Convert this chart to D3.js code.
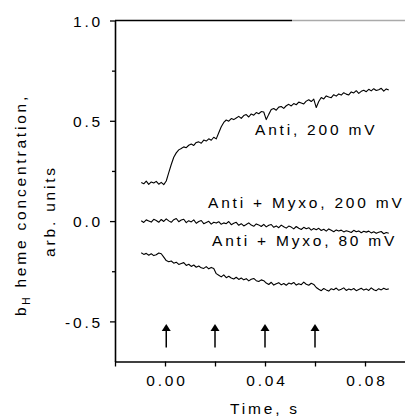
<!DOCTYPE html>
<html>
<head>
<meta charset="utf-8">
<script src="https://cdn.jsdelivr.net/npm/d3@7"></script>
<style>
  html, body { margin: 0; padding: 0; background: #fff; }
  svg text { font-family: "Liberation Sans", Arial, sans-serif; font-size: 15.5px; letter-spacing: 2.8px; fill: #000; }
</style>
</head>
<body>
<svg id="chart" width="405" height="418"></svg>
<script>
// ---- data ----
const times = [
  -0.0095,-0.0085,-0.0075,-0.0065,-0.0055,-0.0045,-0.0035,-0.0025,-0.0015,-0.0005,
   0.0005, 0.0015, 0.0025, 0.0035, 0.0045, 0.0055, 0.0065, 0.0075, 0.0085, 0.0095,
   0.0105, 0.0115, 0.0125, 0.0135, 0.0145, 0.0155, 0.0165, 0.0175, 0.0185, 0.0195,
   0.0205, 0.0215, 0.0225, 0.0235, 0.0245, 0.0255, 0.0265, 0.0275, 0.0285, 0.0295,
   0.0305, 0.0315, 0.0325, 0.0335, 0.0345, 0.0355, 0.0365, 0.0375, 0.0385, 0.0395,
   0.0405, 0.0415, 0.0425, 0.0435, 0.0445, 0.0455, 0.0465, 0.0475, 0.0485, 0.0495,
   0.0505, 0.0515, 0.0525, 0.0535, 0.0545, 0.0555, 0.0565, 0.0575, 0.0585, 0.0595,
   0.0605, 0.0615, 0.0625, 0.0635, 0.0645, 0.0655, 0.0665, 0.0675, 0.0685, 0.0695,
   0.0705, 0.0715, 0.0725, 0.0735, 0.0745, 0.0755, 0.0765, 0.0775, 0.0785, 0.0795,
   0.0805, 0.0815, 0.0825, 0.0835, 0.0845, 0.0855, 0.0865, 0.0875, 0.0885, 0.0895
];
const anti200 = [
  0.192,0.186,0.199,0.183,0.195,0.190,0.198,0.184,0.193,0.182,
  0.200,0.242,0.282,0.318,0.340,0.355,0.362,0.370,0.366,0.378,
  0.384,0.377,0.392,0.395,0.388,0.404,0.399,0.410,0.403,0.418,
  0.410,0.440,0.470,0.492,0.504,0.498,0.511,0.506,0.514,0.522,
  0.512,0.526,0.531,0.519,0.534,0.528,0.541,0.535,0.546,0.544,
  0.506,0.532,0.556,0.561,0.553,0.568,0.571,0.562,0.575,0.582,
  0.574,0.586,0.580,0.593,0.589,0.584,0.598,0.605,0.596,0.608,
  0.566,0.596,0.616,0.609,0.624,0.619,0.615,0.630,0.623,0.634,
  0.628,0.640,0.633,0.629,0.644,0.639,0.650,0.637,0.647,0.652,
  0.645,0.657,0.649,0.660,0.651,0.655,0.662,0.648,0.659,0.653
];
const myxo200 = [
   0.002,-0.007, 0.006, 0.001,-0.005, 0.009, 0.003,-0.006, 0.008,-0.002,
   0.011, 0.001,-0.006, 0.007, 0.013,-0.003, 0.005, 0.009,-0.008, 0.002,
  -0.004, 0.006,-0.011,-0.002, 0.003,-0.013,-0.007,-0.001,-0.015,-0.006,
  -0.010,-0.003,-0.016,-0.009,-0.013,-0.002,-0.018,-0.011,-0.006,-0.021,
  -0.013,-0.024,-0.017,-0.009,-0.020,-0.026,-0.014,-0.019,-0.027,-0.016,
  -0.029,-0.021,-0.017,-0.031,-0.024,-0.033,-0.020,-0.028,-0.035,-0.025,
  -0.030,-0.039,-0.027,-0.036,-0.042,-0.031,-0.038,-0.033,-0.045,-0.037,
  -0.043,-0.036,-0.047,-0.041,-0.050,-0.039,-0.046,-0.053,-0.044,-0.049,
  -0.045,-0.054,-0.048,-0.052,-0.057,-0.046,-0.053,-0.049,-0.058,-0.051,
  -0.055,-0.050,-0.059,-0.053,-0.061,-0.056,-0.052,-0.063,-0.057,-0.061
];
const myxo80 = [
  -0.158,-0.166,-0.161,-0.170,-0.163,-0.172,-0.168,-0.159,-0.163,-0.180,
  -0.197,-0.203,-0.199,-0.210,-0.205,-0.216,-0.211,-0.207,-0.221,-0.215,
  -0.226,-0.219,-0.230,-0.224,-0.233,-0.236,-0.227,-0.238,-0.231,-0.236,
  -0.262,-0.270,-0.278,-0.268,-0.282,-0.275,-0.284,-0.289,-0.280,-0.291,
  -0.284,-0.293,-0.287,-0.298,-0.290,-0.286,-0.297,-0.301,-0.293,-0.297,
  -0.309,-0.316,-0.305,-0.319,-0.312,-0.307,-0.318,-0.311,-0.320,-0.309,
  -0.314,-0.306,-0.319,-0.312,-0.317,-0.304,-0.315,-0.320,-0.310,-0.316,
  -0.331,-0.340,-0.347,-0.336,-0.343,-0.349,-0.337,-0.342,-0.334,-0.345,
  -0.340,-0.333,-0.346,-0.339,-0.343,-0.336,-0.347,-0.341,-0.335,-0.344,
  -0.338,-0.346,-0.333,-0.342,-0.347,-0.337,-0.343,-0.335,-0.341,-0.338
];
const seriesLabels = ["Anti, 200 mV", "Anti + Myxo, 200 mV", "Anti + Myxo, 80 mV"];
const flashTimes = [0.0005, 0.02, 0.04, 0.06];
const xTicks = [0.00, 0.04, 0.08];
const xMinorTicks = [-0.02, 0.02, 0.06];
const yTicks = [-0.5, 0.0, 0.5, 1.0];
const yMinorTicks = [-0.25, 0.25, 0.75];
const xDomain = [-0.02, 0.096];
const yDomain = [-0.7, 1.0];
const arrowRange = [-0.63, -0.513];

// ---- layout ----
const svg = d3.select("#chart");
const L = 115, R = 405, T = 20.5, B = 361.5;
const x = d3.scaleLinear().domain(xDomain).range([L, R]);
const y = d3.scaleLinear().domain(yDomain).range([B, T]);
const hyphenFmt = f => (d => d3.format(f)(d).replace("\u2212", "-"));

// top frame line (dark then faded, as in the scan)
svg.append("line").attr("x1", L).attr("x2", 292).attr("y1", T).attr("y2", T)
  .attr("stroke", "#000").attr("stroke-width", 1.6);
svg.append("line").attr("x1", 292).attr("x2", R).attr("y1", T).attr("y2", T)
  .attr("stroke", "#aaa").attr("stroke-width", 1.6);

// x axis
const gx = svg.append("g").attr("transform", `translate(0,${B})`)
  .call(d3.axisBottom(x).tickValues(xTicks).tickFormat(hyphenFmt(".2f")).tickSize(5).tickSizeOuter(0));
svg.append("g").attr("transform", `translate(0,${B})`)
  .call(d3.axisBottom(x).tickValues(xMinorTicks).tickFormat("").tickSize(5).tickSizeOuter(0))
  .select(".domain").remove();
// y axis
const gy = svg.append("g").attr("transform", `translate(${L},0)`)
  .call(d3.axisLeft(y).tickValues(yTicks).tickFormat(hyphenFmt(".1f")).tickSize(5).tickSizeOuter(0));
svg.append("g").attr("transform", `translate(${L},0)`)
  .call(d3.axisLeft(y).tickValues(yMinorTicks).tickFormat("").tickSize(3).tickSizeOuter(0))
  .select(".domain").remove();

svg.selectAll(".domain").attr("stroke", "#000").attr("stroke-width", 1.6);
svg.selectAll(".tick line").attr("stroke", "#000").attr("stroke-width", 1.3);
svg.selectAll("g text").attr("font-family", null).attr("font-size", null).style("fill", "#000");
gx.selectAll("text").attr("y", 24.5).attr("dy", 0).attr("dx", 1.4);
gy.selectAll("text").attr("x", -12).attr("dy", "0.38em");

// traces
const line = d3.line().x(d => x(d[0])).y(d => y(d[1]));
[anti200, myxo200, myxo80].forEach(vals => {
  svg.append("path").datum(d3.zip(times, vals))
    .attr("fill", "none").attr("stroke", "#000").attr("stroke-width", 1.1)
    .attr("stroke-linejoin", "round").attr("d", line);
});

// series labels
const labelPos = [[255, 135], [208, 208], [212, 246]];
seriesLabels.forEach((t, i) => {
  svg.append("text").attr("x", labelPos[i][0]).attr("y", labelPos[i][1]).text(t);
});

// flash arrows
flashTimes.forEach(t => {
  const xp = x(t), y0 = y(arrowRange[0]), y1 = y(arrowRange[1]);
  svg.append("line").attr("x1", xp).attr("x2", xp).attr("y1", y0).attr("y2", y1 + 5)
    .attr("stroke", "#000").attr("stroke-width", 1.5);
  svg.append("path").attr("d", `M${xp},${y1} L${xp - 4.5},${y1 + 7} L${xp + 4.5},${y1 + 7} Z`)
    .attr("fill", "#000");
});

// axis titles
svg.append("text").attr("x", 265).attr("y", 414).attr("text-anchor", "middle").text("Time, s");
const yt1 = svg.append("text").attr("transform", "translate(25.5,205) rotate(-90)")
  .attr("text-anchor", "middle");
yt1.append("tspan").text("b");
yt1.append("tspan").attr("dy", 4).style("font-size", "10px").text("H");
yt1.append("tspan").attr("dy", -4).text(" heme concentration,");
svg.append("text").attr("transform", "translate(55,211) rotate(-90)")
  .attr("text-anchor", "middle").text("arb. units");
</script>
</body>
</html>
